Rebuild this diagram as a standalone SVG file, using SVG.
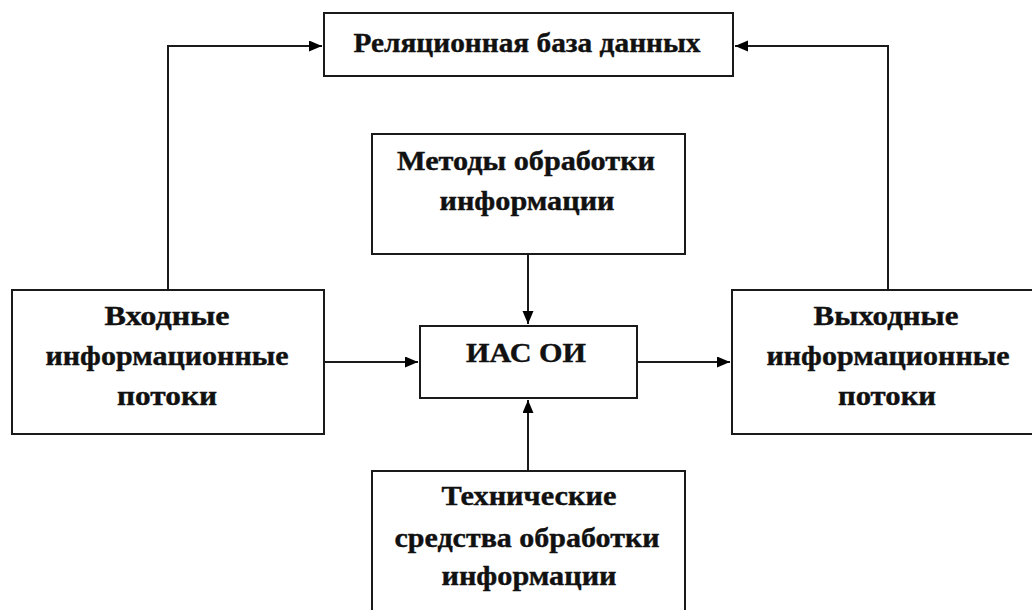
<svg xmlns="http://www.w3.org/2000/svg" width="1032" height="610" viewBox="0 0 1032 610">
<defs>
<marker id="arr" markerUnits="userSpaceOnUse" markerWidth="14" markerHeight="12" refX="13" refY="5.5" orient="auto">
<path d="M0,0 L13,5.5 L0,11 z" fill="#000"/>
</marker>
<style>
.box{fill:#fff;stroke:#1a1a1a;stroke-width:2}
.t{font-family:"Liberation Serif","Times New Roman",serif;font-weight:bold;font-size:27px;fill:#111;stroke:#111;stroke-width:0.4;text-anchor:middle}
.c{fill:none;stroke:#1a1a1a;stroke-width:2}
</style>
</defs>
<rect width="1032" height="610" fill="#fff"/>
<g id="connectors">
<polyline class="c" points="168,290 168,46 322,46" marker-end="url(#arr)"/>
<polyline class="c" points="888,290 888,46 735,46" marker-end="url(#arr)"/>
<line class="c" x1="528" y1="254" x2="528" y2="324" marker-end="url(#arr)"/>
<line class="c" x1="528" y1="471" x2="528" y2="400" marker-end="url(#arr)"/>
<line class="c" x1="324" y1="362" x2="418" y2="362" marker-end="url(#arr)"/>
<line class="c" x1="637" y1="362" x2="730" y2="362" marker-end="url(#arr)"/>
</g>
<g id="db">
<rect class="box" x="324" y="13" width="409" height="63"/>
<text class="t" x="527" y="52" style="font-size:28px" textLength="347" lengthAdjust="spacingAndGlyphs">Реляционная база данных</text>
</g>
<g id="methods">
<rect class="box" x="372" y="134" width="313" height="120"/>
<text class="t" x="526" y="170" textLength="258" lengthAdjust="spacingAndGlyphs">Методы обработки</text>
<text class="t" x="527" y="210" textLength="175" lengthAdjust="spacingAndGlyphs">информации</text>
</g>
<g id="ias">
<rect class="box" x="420" y="326" width="217" height="72"/>
<text class="t" x="526" y="362" textLength="120" lengthAdjust="spacingAndGlyphs">ИАС ОИ</text>
</g>
<g id="input">
<rect class="box" x="12" y="290" width="312" height="144"/>
<text class="t" x="167" y="325" textLength="125" lengthAdjust="spacingAndGlyphs">Входные</text>
<text class="t" x="167" y="365" textLength="243" lengthAdjust="spacingAndGlyphs">информационные</text>
<text class="t" x="167" y="405" textLength="100" lengthAdjust="spacingAndGlyphs">потоки</text>
</g>
<g id="output">
<rect class="box" x="732" y="290" width="312" height="144"/>
<text class="t" x="886" y="325" textLength="145" lengthAdjust="spacingAndGlyphs">Выходные</text>
<text class="t" x="888" y="365" textLength="243" lengthAdjust="spacingAndGlyphs">информационные</text>
<text class="t" x="887" y="405" textLength="98" lengthAdjust="spacingAndGlyphs">потоки</text>
</g>
<g id="tech">
<rect class="box" x="372" y="471" width="313" height="160"/>
<text class="t" x="529" y="505" textLength="175" lengthAdjust="spacingAndGlyphs">Технические</text>
<text class="t" x="527" y="547" textLength="265" lengthAdjust="spacingAndGlyphs">средства обработки</text>
<text class="t" x="529" y="585" textLength="175" lengthAdjust="spacingAndGlyphs">информации</text>
</g>
</svg>
